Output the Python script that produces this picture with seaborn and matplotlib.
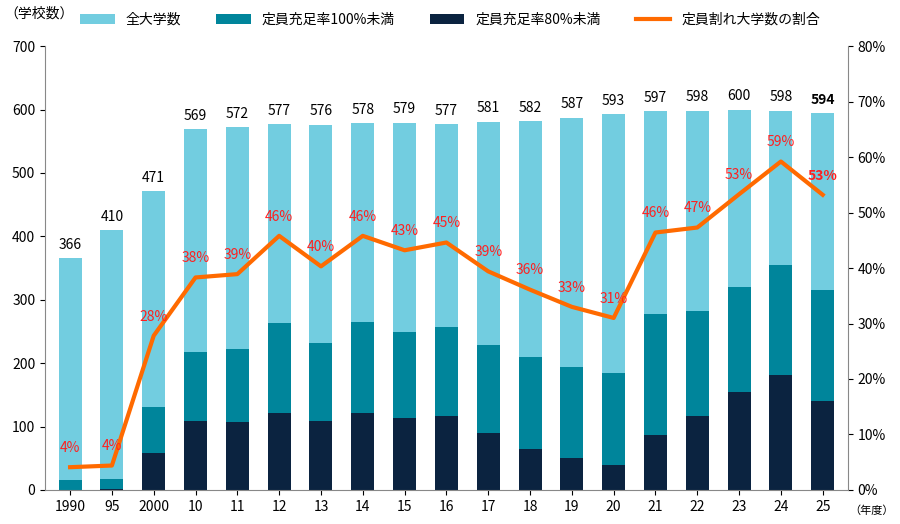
import matplotlib.pyplot as plt
import numpy as np
import pandas as pd
import seaborn as sns

plt.rcParams['font.family'] = 'Noto Sans CJK JP'

years = ['1990', '95', '2000', '10', '11', '12', '13', '14', '15', '16', '17',
         '18', '19', '20', '21', '22', '23', '24', '25']
total = [366, 410, 471, 569, 572, 577, 576, 578, 579, 577, 581, 582, 587, 593, 597, 598, 600, 598, 594]
under100 = [15, 18, 131, 218, 222, 264, 231, 265, 249, 257, 229, 210, 194, 184, 277, 283, 320, 354, 316]
under80 = [0, 2, 58, 108, 107, 121, 108, 122, 114, 117, 90, 65, 51, 40, 86, 116, 155, 182, 141]
ratio = [4.1, 4.4, 27.8, 38.3, 38.9, 45.8, 40.3, 45.8, 43.2, 44.6, 39.4, 36.1, 33.0, 31.0, 46.4, 47.3, 53.3, 59.2, 53.2]

df = pd.DataFrame({'year': years, 'total': total, 'u100': under100, 'u80': under80, 'ratio': ratio})

fig = plt.figure(figsize=(9, 5.24), dpi=100)
ax = fig.add_axes([0.05, 0.065, 0.892, 0.847])

sns.barplot(data=df, x='year', y='total', color='#72cde0', width=0.55, ax=ax, label='全大学数', saturation=1)
sns.barplot(data=df, x='year', y='u100', color='#00859b', width=0.55, ax=ax, label='定員充足率100%未満', saturation=1)
sns.barplot(data=df, x='year', y='u80', color='#0b2340', width=0.55, ax=ax, label='定員充足率80%未満', saturation=1)

for i, v in enumerate(total):
    ax.text(i, v + 10, str(v), ha='center', va='bottom', fontsize=10,
            fontweight='bold' if i == len(total) - 1 else 'normal')

ax.set_ylim(0, 700)
ax.set_yticks(range(0, 701, 100))
ax.set_xlabel('')
ax.set_ylabel('')
ax.set_xlim(-0.6, len(years) - 0.4)
for s in ['top', 'right']:
    ax.spines[s].set_visible(False)
ax.spines['left'].set_color('#888888')
ax.spines['bottom'].set_color('#888888')
ax.tick_params(labelsize=10)

ax2 = ax.twinx()
x = np.arange(len(years))
sns.lineplot(x=x, y=ratio, color='#ff6a00', linewidth=3, ax=ax2, label='定員割れ大学数の割合')
for i, r in enumerate(ratio):
    ax2.text(i, r + 2.2, f'{round(r)}%', ha='center', va='bottom', fontsize=10, color='#ff2020',
             fontweight='bold' if i == len(ratio) - 1 else 'normal')
ax2.set_ylim(0, 80)
ax2.set_yticks(range(0, 81, 10))
ax2.set_yticklabels([f'{t}%' for t in range(0, 81, 10)])
ax2.spines['top'].set_visible(False)
ax2.spines['left'].set_visible(False)
ax2.spines['right'].set_color('#888888')
ax2.spines['bottom'].set_visible(False)
ax2.tick_params(labelsize=10)

h1, l1 = ax.get_legend_handles_labels()
h2, l2 = ax2.get_legend_handles_labels()
if ax.get_legend() is not None:
    ax.get_legend().remove()
ax2.get_legend().remove()
fig.legend(h1 + h2, l1 + l2, loc='upper center', bbox_to_anchor=(0.5, 1.0), ncol=4,
           frameon=False, fontsize=10, handlelength=2.5, columnspacing=2.5)

fig.text(0.005, 0.975, '（学校数）', fontsize=10, va='center')
fig.text(0.993, 0.025, '（年度）', fontsize=8, va='center', ha='right')

fig.savefig('out.png', dpi=100)
